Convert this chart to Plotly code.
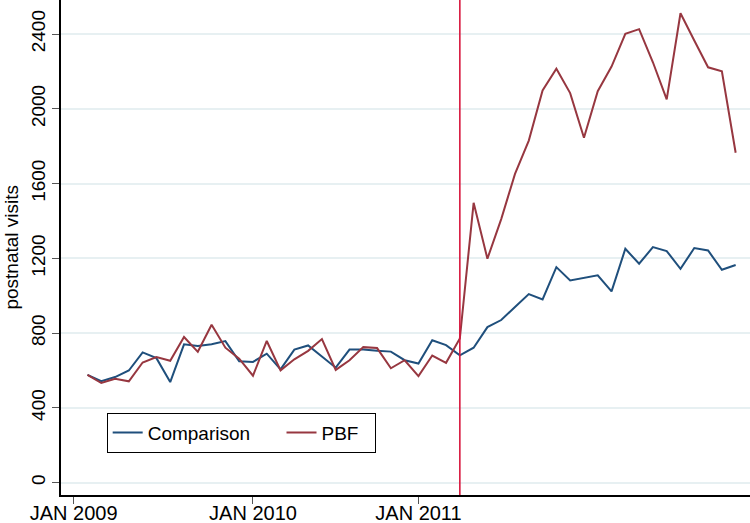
import plotly.graph_objects as go

# Month index: 0 = Jan 2009 ... 47 = Dec 2012
months = list(range(48))

comparison = [577, 543, 565, 600, 697, 666, 538, 740, 731, 740, 757, 649,
              646, 690, 606, 712, 734, 673, 615, 712, 712, 705, 701, 655,
              637, 762, 736, 681, 722, 832, 870, 940, 1009, 980, 1153, 1082,
              1096, 1109, 1023, 1251, 1171, 1260, 1239, 1144, 1255, 1242, 1139, 1164]

pbf = [577, 533, 556, 542, 643, 672, 652, 779, 700, 845, 722, 663,
       572, 758, 601, 660, 705, 768, 603, 655, 725, 720, 612, 655,
       570, 680, 641, 771, 1497, 1198, 1410, 1652, 1830, 2098, 2214, 2084,
       1845, 2094, 2226, 2401, 2426, 2249, 2050, 2511, 2365, 2222, 2201, 1765]

tick_months = [-1, 12, 24]
tick_labels = ["JAN 2009", "JAN 2010", "JAN 2011"]
y_ticks = [0, 400, 800, 1200, 1600, 2000, 2400]
intervention_month = 27
series_names = ["Comparison", "PBF"]

FONT = "Liberation Sans, Arial, Helvetica, sans-serif"
NBSP = "\u00a0"

fig = go.Figure()
fig.add_trace(go.Scatter(x=months, y=comparison, mode="lines",
                         name=series_names[0] + NBSP * 5,
                         line=dict(color="#1f4f7c", width=2)))
fig.add_trace(go.Scatter(x=months, y=pbf, mode="lines",
                         name=series_names[1] + NBSP * 2,
                         line=dict(color="#973740", width=2)))

fig.add_vline(x=intervention_month, line=dict(color="#d8173e", width=1.6))

fig.update_layout(
    width=750, height=523,
    margin=dict(l=61, r=0, t=0, b=28),
    paper_bgcolor="white", plot_bgcolor="white",
    font=dict(family=FONT, size=19, color="black"),
    showlegend=True,
    legend=dict(orientation="h", x=0.0663, y=0.1663, xanchor="left", yanchor="top",
                bordercolor="black", borderwidth=1, bgcolor="white",
                font=dict(family=FONT, size=19, color="black"),
                traceorder="normal"),
    xaxis=dict(range=[-1.92, 48.04], tickmode="array", tickvals=tick_months,
               ticktext=tick_labels, showgrid=False, zeroline=False,
               showline=True, linecolor="black", linewidth=1.5,
               ticks="outside", ticklen=7, tickwidth=1.2, tickcolor="#555555",
               automargin=False, ticklabelstandoff=-8,
               tickfont=dict(family=FONT, size=20, color="black")),
    yaxis=dict(range=[-66, 2582], tickmode="array", tickvals=y_ticks,
               showgrid=True, gridcolor="#e7f0f2", gridwidth=1.5, zeroline=False,
               showline=True, linecolor="black", linewidth=1.5,
               ticks="outside", ticklen=7, tickwidth=1.2, tickcolor="#555555",
               tickangle=-90, automargin=False,
               tickfont=dict(family=FONT, size=19, color="black")),
)

fig.add_annotation(text="postnatal visits", textangle=-90, xref="paper", yref="paper",
                   x=-0.0725, y=0.5, xanchor="center", yanchor="middle",
                   showarrow=False, font=dict(family=FONT, size=19, color="black"))

fig.write_html("out.html", config={"displayModeBar": False},
               post_script="document.body.style.margin='0';document.body.style.overflow='hidden';")
